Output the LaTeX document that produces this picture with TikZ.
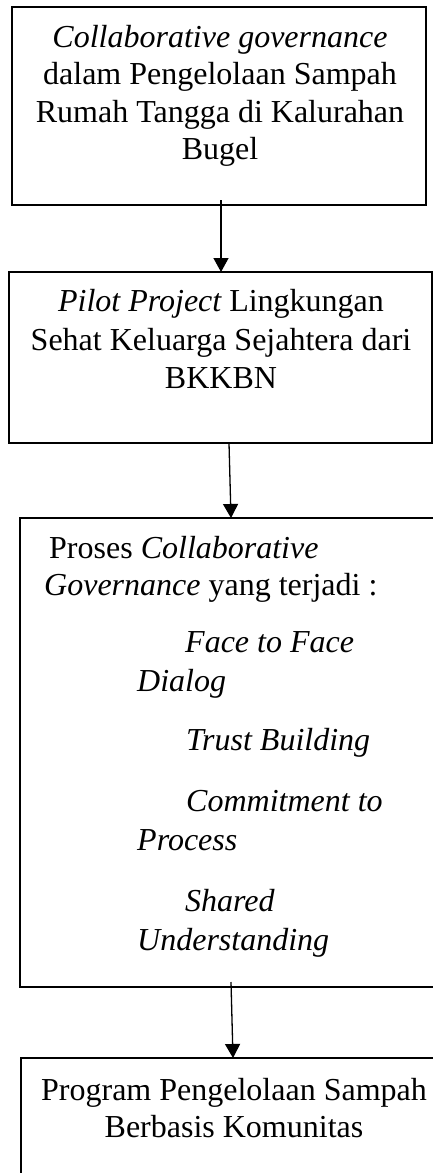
\documentclass[tikz,border=0pt]{standalone}
\usepackage{fontspec}
\setmainfont{Liberation Serif}
\usetikzlibrary{arrows.meta}
\begin{document}
\begin{tikzpicture}[x=1pt,y=-1pt,
  box/.style={draw=black,line width=1.8pt,inner sep=0pt},
  txt/.style={inner sep=0pt,font=\fontsize{32}{37.5}\selectfont},
  ctr/.style={txt,anchor=base},
  lft/.style={txt,anchor=base west},
  flow/.style={line width=1.3pt,-{Triangle[length=14pt,width=15pt]}}]
\useasboundingbox (0,0) rectangle (433,1173);
\clip (0,0) rectangle (433,1173);
% boxes
\draw[box] (12,7) rectangle (426,205);
\draw[box] (9,272) rectangle (432,443);
\draw[box] (20,518) rectangle (445,987);
\draw[box] (21,1058) rectangle (445,1200);
% box 1 text
\node[ctr] (a1) at (220,47) {\itshape Collaborative governance};
\node[ctr] (a2) at (220,84.5) {dalam Pengelolaan Sampah};
\node[ctr] (a3) at (220,122) {Rumah Tangga di Kalurahan};
\node[ctr] (a4) at (220,159.5) {Bugel};
% box 2 text
\node[ctr] (b1) at (221,311) {\itshape Pilot Project\upshape\ Lingkungan};
\node[ctr] (b2) at (221,350) {Sehat Keluarga Sejahtera dari};
\node[ctr] (b3) at (221,388) {BKKBN};
% box 3 text
\node[lft] (c1) at (49,558) {Proses \itshape Collaborative};
\node[lft] (c2) at (44,595) {\itshape Governance\upshape\ yang terjadi :};
\node[lft] (c3) at (185,652) {\itshape Face to Face};
\node[lft] (c4) at (137,691) {\itshape Dialog};
\node[lft] (c5) at (186,750) {\itshape Trust Building};
\node[lft] (c6) at (186,811) {\itshape Commitment to};
\node[lft] (c7) at (137,850) {\itshape Process};
\node[lft] (c8) at (185,911) {\itshape Shared};
\node[lft] (c9) at (137,950) {\itshape Understanding};
% box 4 text
\node[ctr] (d1) at (234,1100) {Program Pengelolaan Sampah};
\node[ctr] (d2) at (234,1137) {Berbasis Komunitas};
% connectors
\coordinate (s1) at (221,200);
\coordinate (e1) at (221,272);
\coordinate (s2) at (229,443);
\coordinate (e2) at (231,518);
\coordinate (s3) at (231,982);
\coordinate (e3) at (233,1058);
\draw[flow] (s1) -- (e1);
\draw[flow] (s2) -- (e2);
\draw[flow] (s3) -- (e3);
\end{tikzpicture}
\end{document}
